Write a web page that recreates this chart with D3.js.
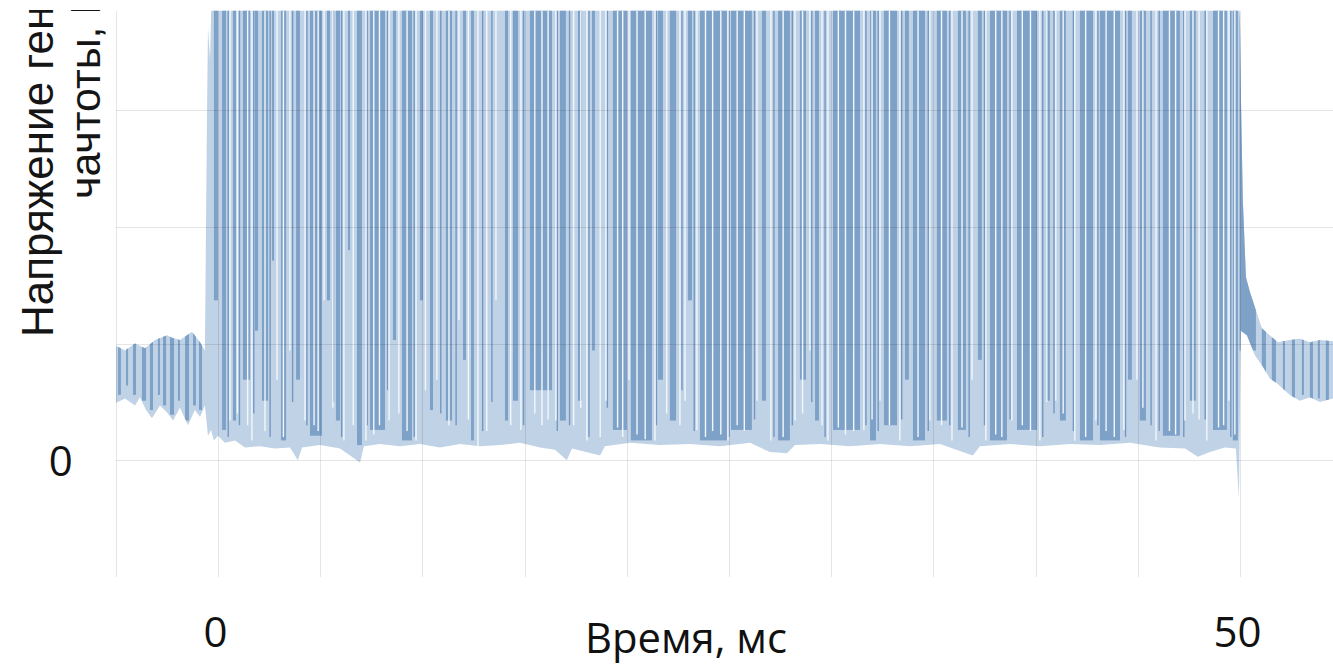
<!DOCTYPE html>
<html><head><meta charset="utf-8">
<script src="https://cdn.jsdelivr.net/npm/d3@7"></script>
<style>html,body{margin:0;padding:0;background:#fff;overflow:hidden}</style>
</head><body>
<svg id="c" width="1333" height="664"></svg>
<script>
// ---------------- data (time in ms, voltage in V) ----------------
const gridTimes = [-5,0,5,10,15,20,25,30,35,40,45,50];
const gridVolts = [-1,0,1,2,3];
const xTickValues = [0,50];
const xTickLabels = ["0","50"];
const yTickValues = [0];
const yTickLabels = ["0"];
const xTitle = "Время, мс";
const yTitleLines = ["Напряжение генератора", "чачтоты, В"];

// lower envelope of the signal
const lowTime = [-5.0,-4.55,-4.06,-3.82,-3.52,-3.23,-2.84,-2.49,-2.20,-1.86,-1.47,-1.13,-0.88,-0.64,-0.49,-0.34,-0.20,0.00,0.34,0.83,1.32,2.05,2.79,3.52,3.91,4.11,4.99,5.97,6.95,7.14,7.93,8.90,9.88,10.86,11.84,12.82,13.80,14.77,15.75,16.49,17.07,17.32,18.69,18.93,20.16,21.62,23.09,24.56,26.03,27.00,27.84,28.23,29.45,30.92,32.39,33.85,35.32,36.93,37.28,38.74,40.21,41.68,43.15,44.62,46.08,47.31,47.94,48.53,49.26,49.80,49.95,50.04,50.34,50.73,51.12,51.46,51.81,52.44,52.93,53.42,53.91,54.55];
const lowVolt = [0.49,0.53,0.47,0.54,0.43,0.36,0.47,0.41,0.34,0.45,0.30,0.43,0.37,0.47,0.21,0.26,0.17,0.21,0.15,0.17,0.11,0.12,0.10,0.11,0.00,0.11,0.13,0.10,-0.02,0.12,0.14,0.12,0.14,0.11,0.14,0.12,0.13,0.15,0.11,0.09,0.00,0.10,0.04,0.12,0.15,0.13,0.14,0.12,0.15,0.07,0.06,0.13,0.14,0.12,0.14,0.12,0.14,0.04,0.12,0.14,0.12,0.14,0.13,0.15,0.11,0.10,0.03,0.07,0.11,0.10,-0.33,1.11,1.07,0.90,0.80,0.70,0.66,0.56,0.51,0.54,0.50,0.53];

// upper envelope of the signal (values above the frame are cut off)
const highTime = [-5.0,-4.55,-4.06,-3.57,-3.08,-2.49,-2.25,-1.86,-1.27,-0.88,-0.64,-0.54,-0.49,-0.39,-0.29,49.85,50.00,50.05,50.14,50.29,50.49,51.07,51.86,52.44,52.93,53.42,53.91,54.55];
const highVolt = [0.98,0.94,1.00,0.96,1.03,1.07,1.05,1.03,1.10,1.01,0.94,2.91,3.71,3.43,4.20,4.20,3.77,3.08,2.23,1.57,1.44,1.13,1.01,1.03,1.04,1.01,1.03,1.02];

// darker (denser) stripes of the trace: start, end, lowest voltage reached
const stripeStart = [-4.89,-4.50,-4.16,-3.72,-3.33,-2.94,-2.69,-2.35,-1.96,-1.61,-1.22,-0.93,
  -0.20,0.20,0.73,1.22,1.81,2.15,2.64,3.08,3.82,4.50,5.33,5.77,6.36,6.80,7.44,8.56,9.00,9.88,10.37,11.15,11.99,12.38,14.04,14.43,15.26,16.73,
  17.61,18.30,19.32,20.20,21.52,22.11,22.99,23.58,25.10,26.61,27.40,28.47,29.21,30.09,31.90,32.58,33.61,34.00,35.17,36.20,37.18,37.77,39.09,40.51,41.19,42.17,43.15,44.52,45.10,46.23,47.55,48.68,49.65,
  49.98,51.07,51.56,52.10,52.54,53.03,53.42,53.81,54.20];
const stripeEnd = [-4.75,-4.40,-4.01,-3.52,-3.18,-2.84,-2.54,-2.15,-1.86,-1.42,-1.08,-0.78,
  0.00,0.39,0.88,1.57,1.96,2.45,2.74,3.33,4.01,5.09,5.48,5.97,6.46,7.04,8.17,8.71,9.49,10.03,10.52,11.45,12.13,12.52,14.19,14.68,16.34,17.02,
  17.81,18.44,20.01,21.23,21.77,22.41,23.19,24.90,26.12,26.81,27.98,28.77,29.40,31.41,32.19,33.22,33.80,34.59,35.66,36.59,37.37,38.60,40.07,40.70,41.48,42.81,44.13,44.71,45.40,47.06,47.84,49.36,49.90,
  50.78,51.27,51.76,52.20,52.69,53.13,53.57,53.91,54.35];
const stripeLow = [0.56,0.64,0.56,0.51,0.43,0.56,0.47,0.39,0.51,0.34,0.47,0.43,
  1.37,0.26,0.34,0.69,1.11,0.51,1.71,0.17,0.69,0.21,1.37,0.34,1.80,0.13,0.26,1.03,0.17,1.37,0.43,0.34,0.86,0.17,0.34,0.51,0.60,0.34,
  0.51,0.94,0.26,0.17,0.69,0.34,1.37,0.17,0.26,0.51,0.17,0.69,0.34,0.26,0.17,0.30,0.69,0.17,0.34,0.26,0.86,0.17,0.26,0.51,0.34,0.17,0.17,0.69,0.34,0.21,0.51,0.26,0.17,
  0.94,0.73,0.60,0.56,0.51,0.56,0.51,0.53,0.51];

// single thin dark traces: time, lowest voltage
const traceTime = [0.50,1.05,1.75,2.55,3.65,4.35,5.65,6.05,7.30,8.30,9.60,10.90,11.65,12.95,13.40,14.95,16.60,17.20,18.15,19.05,21.45,22.70,23.30,25.00,26.25,27.20,28.10,29.05,29.70,31.70,32.30,33.45,34.75,35.80,36.75,37.50,38.75,40.35,40.90,41.85,43.05,44.40,45.65,46.05,47.25,48.30,49.55];
const traceLow = [0.20,0.30,0.40,0.20,0.50,0.30,0.50,0.20,0.30,0.60,0.20,0.40,0.30,0.25,0.50,0.30,0.25,0.30,0.20,0.45,0.30,0.60,0.25,0.20,0.35,0.20,0.30,0.50,0.20,0.30,0.25,0.35,0.25,0.30,0.20,0.30,0.35,0.20,0.40,0.25,0.30,0.20,0.30,0.25,0.20,0.35,0.20];

// thin empty gaps in the trace: time, lowest voltage of the gap
const gapTime = [0.59,0.95,1.45,1.66,2.30,2.89,3.20,3.52,4.26,4.70,4.90,5.19,5.62,6.16,6.62,7.24,7.62,7.90,8.37,8.85,9.25,9.69,10.15,10.71,11.30,11.79,12.25,12.72,13.15,13.60,14.32,14.82,15.50,15.85,16.15,16.53,17.40,17.75,18.05,18.70,18.98,19.55,19.80,20.11,20.50,20.90,21.38,21.95,22.60,22.85,23.43,23.85,24.20,24.60,24.95,25.40,25.75,26.37,27.05,27.65,28.23,28.60,28.96,29.55,29.84,30.35,30.70,31.10,31.60,32.00,32.39,32.85,33.36,34.25,34.83,35.40,35.91,36.40,36.89,37.57,38.05,38.35,38.84,39.35,39.75,40.21,40.55,40.99,41.35,41.92,42.45,42.95,43.45,43.85,44.32,44.96,45.25,45.89,46.55,46.85,47.31,47.70,48.00,48.38,48.95,49.20,49.46,49.75];
const gapLow = [0.34,0.40,0.30,0.17,0.25,0.69,0.20,0.94,0.34,0.30,0.25,1.37,0.45,0.17,0.30,0.17,0.22,0.30,0.34,0.40,0.25,0.17,0.60,0.69,0.30,1.20,0.35,0.09,0.25,1.37,0.30,0.26,0.40,0.30,0.35,0.34,0.30,0.45,0.17,0.20,0.51,0.28,0.20,0.69,0.22,0.18,0.17,0.40,0.30,0.51,0.26,0.20,0.25,0.22,0.17,0.30,0.25,0.51,0.17,0.20,0.34,0.40,0.94,0.30,0.17,0.28,0.22,0.25,0.26,0.35,0.51,0.30,0.17,0.20,0.34,0.30,0.17,0.28,0.69,0.17,0.22,0.20,0.34,0.30,0.25,0.17,0.50,0.51,0.40,0.17,0.20,0.34,0.25,0.20,0.26,0.69,0.45,0.17,0.25,0.22,0.34,0.40,0.35,0.17,0.28,0.30,0.51,0.22];

// ---------------- drawing ----------------
const W = 1333, H = 664;
const svg = d3.select("#c");
const x = d3.scaleLinear().domain([-5, 54.6]).range([115.8, 1334]);
const y = d3.scaleLinear().domain([-1, 3.85]).range([577, 10.8]);
const TOP = 4.2;

const defs = svg.append("defs");
defs.append("clipPath").attr("id","page").append("rect")
  .attr("x",0).attr("y",10).attr("width",W).attr("height",H-10);
defs.append("clipPath").attr("id","plot").append("rect")
  .attr("x",x(-5)).attr("y",y(3.85)).attr("width",W-x(-5)).attr("height",y(-1)-y(3.85));

const upper = highTime.map((t,i)=>[t, highVolt[i]]);
const lower = lowTime.map((t,i)=>[t, lowVolt[i]]);
const poly = upper.concat(lower.slice().reverse());
const line = d3.line().x(d=>x(d[0])).y(d=>y(d[1]));
defs.append("clipPath").attr("id","sig").append("path").attr("d", line(poly)+"Z");

const root = svg.append("g").attr("clip-path","url(#page)");
const plot = root.append("g").attr("clip-path","url(#plot)");

// signal
plot.append("path").attr("d", line(poly)+"Z").attr("fill","#c0d2e6");
const sig = plot.append("g").attr("clip-path","url(#sig)");
sig.selectAll("rect.st").data(stripeStart).join("rect").attr("class","st")
  .attr("x",(d)=>x(d))
  .attr("width",(d,i)=>Math.max(1.2, x(stripeEnd[i])-x(d)))
  .attr("y",y(TOP))
  .attr("height",(d,i)=>y(stripeLow[i])-y(TOP))
  .attr("fill","#7ea1c8");
sig.selectAll("line.tr").data(traceTime).join("line").attr("class","tr")
  .attr("x1",d=>x(d)).attr("x2",d=>x(d))
  .attr("y1",y(TOP)).attr("y2",(d,i)=>y(traceLow[i]))
  .attr("stroke","#7399c3").attr("stroke-width",1.4);
sig.selectAll("line.gp").data(gapTime).join("line").attr("class","gp")
  .attr("x1",d=>x(d)).attr("x2",d=>x(d))
  .attr("y1",y(TOP)).attr("y2",(d,i)=>y(gapLow[i]))
  .attr("stroke","#f2f7fc").attr("stroke-width",1.4);

// grid (drawn over the trace, faint)
const px = v => Math.round(v)+0.5;
plot.selectAll("line.vg").data(gridTimes).join("line").attr("class","vg")
  .attr("x1",d=>px(x(d))).attr("x2",d=>px(x(d)))
  .attr("y1",y(3.85)).attr("y2",y(-1))
  .attr("stroke","rgba(0,0,0,0.10)").attr("stroke-width",1);
plot.selectAll("line.hg").data(gridVolts).join("line").attr("class","hg")
  .attr("x1",x(-5)).attr("x2",W)
  .attr("y1",d=>px(y(d))).attr("y2",d=>px(y(d)))
  .attr("stroke","rgba(0,0,0,0.10)").attr("stroke-width",1);

// axes
const xAxis = d3.axisBottom(x).tickValues(xTickValues).tickSize(0)
  .tickFormat((d,i)=>xTickLabels[i]);
const gx = root.append("g").attr("transform",`translate(0,${y(-1)})`).call(xAxis);
gx.select(".domain").remove();
gx.selectAll("text").attr("y",70).attr("dy",0).attr("dx",-3)
  .attr("font-family","'Open Sans', sans-serif").attr("font-size",42).attr("fill","#111");

const yAxis = d3.axisLeft(y).tickValues(yTickValues).tickSize(0)
  .tickFormat((d,i)=>yTickLabels[i]);
const gy = root.append("g").attr("transform",`translate(${x(-5)},0)`).call(yAxis);
gy.select(".domain").remove();
gy.selectAll("text").attr("x",-55).attr("dy","0.36em").attr("text-anchor","middle")
  .attr("font-family","'Open Sans', sans-serif").attr("font-size",42).attr("fill","#111");

// titles
root.append("text").attr("x",686).attr("y",653).attr("text-anchor","middle")
  .attr("font-family","'Open Sans', sans-serif").attr("font-size",42).attr("fill","#111")
  .attr("textLength",202).attr("lengthAdjust","spacingAndGlyphs")
  .text(xTitle);
root.append("text").attr("transform","translate(53,337) rotate(-90)")
  .attr("font-family","'Liberation Sans', Arial, sans-serif").attr("font-size",44).attr("fill","#151515")
  .text(yTitleLines[0]);
root.append("text").attr("transform","translate(100,199) rotate(-90)")
  .attr("font-family","'Liberation Sans', Arial, sans-serif").attr("font-size",43).attr("fill","#151515")
  .text(yTitleLines[1]);
</script>
</body></html>
